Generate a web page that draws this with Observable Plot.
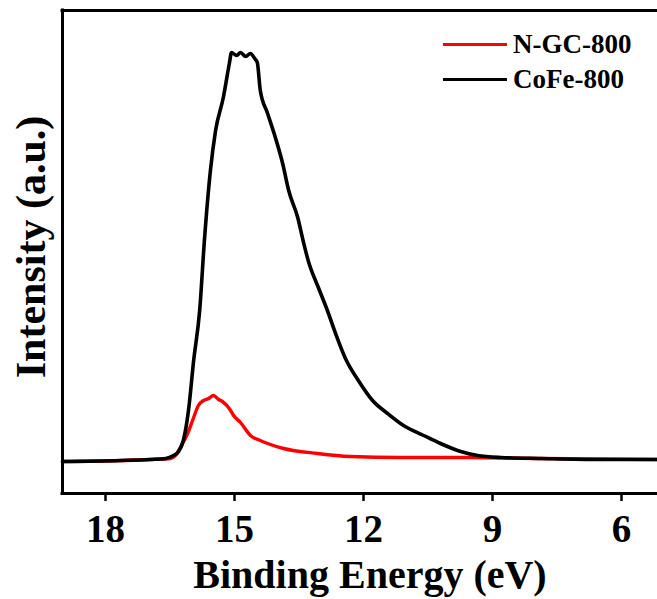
<!DOCTYPE html>
<html>
<head>
<meta charset="utf-8">
<script src="https://cdn.jsdelivr.net/npm/d3@7"></script>
<script src="https://cdn.jsdelivr.net/npm/@observablehq/plot@0.6"></script>
<style>
  html, body { margin: 0; padding: 0; background: #fff; }
  #wrap { position: relative; width: 657px; height: 599px; overflow: hidden; }
  #legend { position: absolute; left: 443px; top: 27px; font-family: "Liberation Serif", "Times New Roman", serif; font-weight: bold; font-size: 27px; color: #000; }
  .row { display: flex; align-items: center; height: 35px; }
  .sw { width: 64px; height: 3px; margin-right: 6px; }
</style>
</head>
<body>
<div id="wrap"><div id="legend"></div></div>
<script>
// CoFe-800 (black)
const energyCoFe = [19.00, 17.65, 16.95, 16.60, 16.42, 16.30, 16.19, 16.07, 15.95, 15.81, 15.70, 15.56, 15.44, 15.26, 15.12, 15.07, 14.95, 14.86, 14.74, 14.63, 14.53, 14.47, 14.40, 14.23, 14.05, 13.88, 13.74, 13.53, 13.40, 13.28, 13.05, 12.84, 12.65, 12.42, 12.12, 11.79, 11.44, 11.07, 10.60, 10.21, 9.74, 9.35, 8.81, 7.88, 6.49, 5.16];
const intensityCoFe = [-2, -1, 0, 1, 4, 8, 19, 49, 99, 149, 219, 289, 329, 362, 396, 407, 404, 407, 403, 406, 401, 397, 369, 346, 322, 296, 269, 242, 218, 198, 172, 149, 126, 101, 79, 59, 46, 34, 24, 16, 8, 4, 2, 1, 0, 0];
// N-GC-800 (red)
const energyNGC = [19.00, 16.95, 16.49, 16.37, 16.26, 16.09, 15.95, 15.84, 15.72, 15.60, 15.49, 15.37, 15.28, 15.09, 15.02, 14.86, 14.63, 14.40, 14.23, 13.86, 13.07, 12.30, 11.14, 9.58, 7.88, 5.16];
const intensityNGC = [-2, 0, 1, 4, 12, 26, 42, 54, 59, 61, 64, 60, 58, 49, 44, 37, 24, 19, 16, 11, 6, 3, 2, 2, 1, 0];

const xTicks = [18, 15, 12, 9, 6];
const xDomain = [19, 5.163];
const yDomain = [-34, 449];
const seriesNames = ["N-GC-800", "CoFe-800"];
const seriesColors = ["#ff0000", "#000000"];
const xTitle = "Binding Energy (eV)";
const yTitle = "Intensity (a.u.)";

const FONT = '"Liberation Serif", "Times New Roman", serif';

const ngc = energyNGC.map((e, i) => ({e, v: intensityNGC[i]}));
const cofe = energyCoFe.map((e, i) => ({e, v: intensityCoFe[i]}));

const chart = Plot.plot({
  width: 657,
  height: 599,
  marginLeft: 62,
  marginRight: 0,
  marginTop: 10,
  marginBottom: 106,
  style: {fontFamily: FONT, fontWeight: "bold", background: "#fff", color: "#000"},
  x: {domain: xDomain},
  y: {domain: yDomain, axis: null},
  marks: [
    Plot.line(ngc, {x: "e", y: "v", stroke: seriesColors[0], strokeWidth: 3.4, curve: "monotone-x"}),
    Plot.line(cofe, {x: "e", y: "v", stroke: seriesColors[1], strokeWidth: 3.6, curve: "monotone-x"}),
    Plot.ruleX([xDomain[0]], {y1: yDomain[0], y2: yDomain[1], stroke: "#000", strokeWidth: 3, strokeLinecap: "square"}),
    Plot.ruleY(yDomain, {stroke: "#000", strokeWidth: 3, strokeLinecap: "square"}),
    Plot.axisX({ticks: xTicks, tickSize: 8, tickPadding: 13, fontSize: 39, strokeWidth: 2.5, label: null, tickFormat: d => String(d)}),
    Plot.text([xTitle], {frameAnchor: "bottom", lineAnchor: "bottom", dx: 10, dy: 94, fontSize: 40, fontWeight: "bold", fill: "#000"}),
    Plot.text([yTitle], {frameAnchor: "left", textAnchor: "middle", rotate: -90, dx: -31, dy: -5, fontSize: 42, fontWeight: "bold", fill: "#000"})
  ]
});
document.getElementById("wrap").prepend(chart);

const legend = document.getElementById("legend");
seriesNames.forEach((name, i) => {
  const row = document.createElement("div");
  row.className = "row";
  const sw = document.createElement("span");
  sw.className = "sw";
  sw.style.background = seriesColors[i];
  const label = document.createElement("span");
  label.textContent = name;
  row.appendChild(sw);
  row.appendChild(label);
  legend.appendChild(row);
});
</script>
</body>
</html>
